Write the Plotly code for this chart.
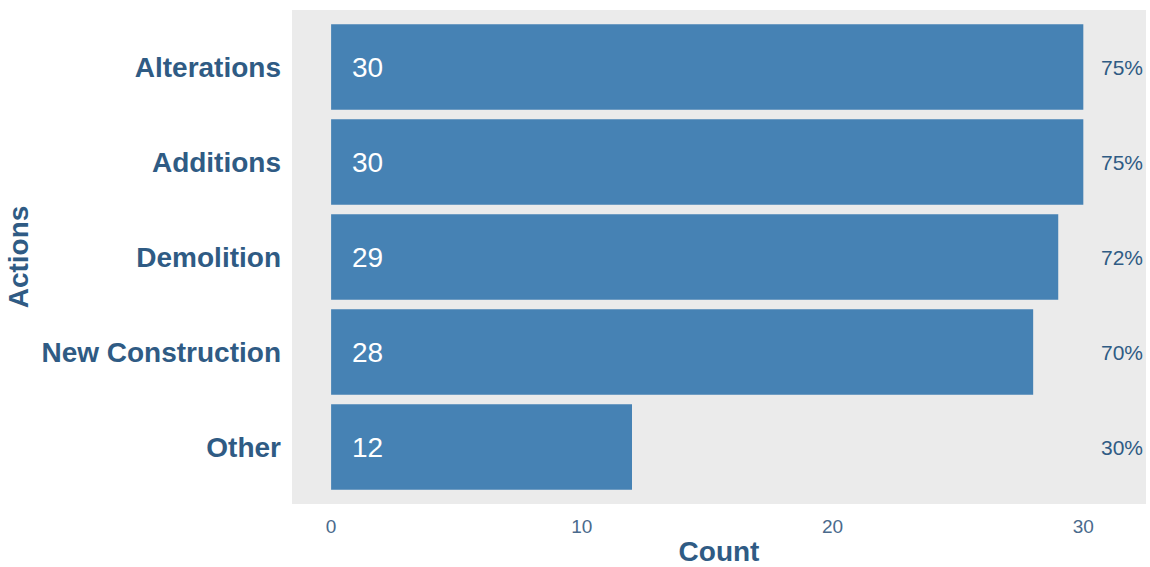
import plotly.graph_objects as go

categories = ["Alterations", "Additions", "Demolition", "New Construction", "Other"]
counts = [30, 30, 29, 28, 12]
percents = ["75%", "75%", "72%", "70%", "30%"]
x_ticks = [0, 10, 20, 30]

label_color = "#2f5b84"
tick_color = "#4a6a8c"

fig = go.Figure()
fig.add_trace(go.Bar(
    x=counts, y=categories, orientation="h",
    marker=dict(color="#4682b4", line=dict(width=0)),
    hoverinfo="x+y",
))

for c, v, p in zip(categories, counts, percents):
    fig.add_annotation(x=1.45, y=c, text=str(v), showarrow=False,
                       xanchor="center", yanchor="middle",
                       font=dict(family="Liberation Sans, Arial", size=28, color="white"))
    fig.add_annotation(x=31.55, y=c, text=p, showarrow=False,
                       xanchor="center", yanchor="middle",
                       font=dict(family="Liberation Sans, Arial", size=21, color=label_color))

fig.update_layout(
    width=1150, height=567,
    margin=dict(l=292, r=4, t=10, b=61),
    paper_bgcolor="white", plot_bgcolor="#ebebeb",
    bargap=0.1, showlegend=False,
    font=dict(family="Liberation Sans, Arial"),
    xaxis=dict(range=[-1.56, 32.5], tickvals=x_ticks, showgrid=False, zeroline=False,
               showline=False, ticks="", ticklabelstandoff=9,
               tickfont=dict(size=19, color=tick_color),
               title=dict(text="<b>Count</b>", font=dict(size=28, color=label_color), standoff=6)),
    yaxis=dict(categoryorder="array", categoryarray=categories, range=[4.6, -0.6],
               showgrid=False, zeroline=False, showline=False, ticks="",
               ticklabelstandoff=10,
               tickfont=dict(size=28, color=label_color, weight="bold"),
               title=dict(text="<b>Actions</b>", font=dict(size=28, color=label_color), standoff=4)),
)

fig.write_html("out.html", config={"displayModeBar": False},
               post_script="document.body.style.margin='0';")
